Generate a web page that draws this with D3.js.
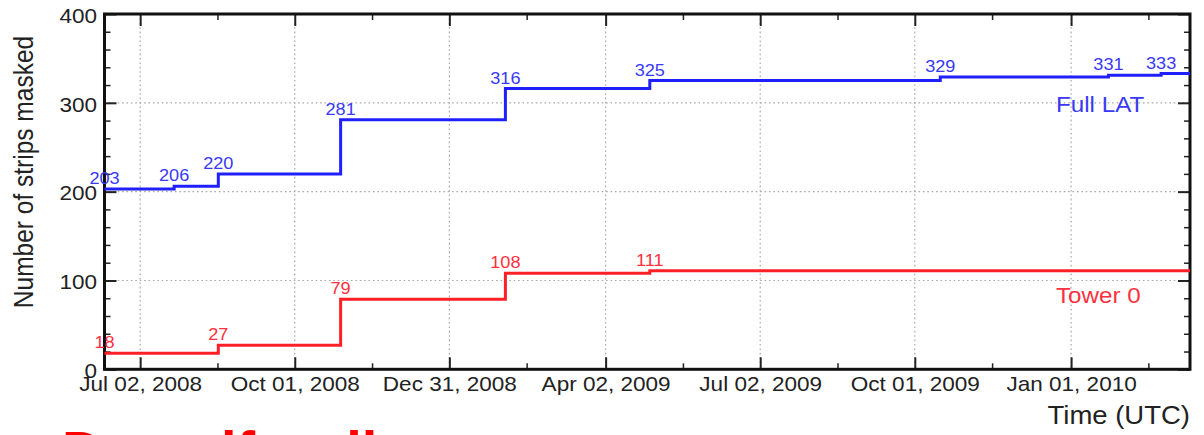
<!DOCTYPE html>
<html>
<head>
<meta charset="UTF-8">
<style>
  body { margin: 0; background: #fff; }
  svg { display: block; font-family: "Liberation Sans", Arial, sans-serif; }
  .grid line { stroke: #a8a8a8; stroke-width: 1.2px; stroke-dasharray: 1.6,2.8; }
  .major line { stroke: #222; stroke-width: 2px; }
  .minor line { stroke: #222; stroke-width: 1.5px; }
  .axis text { fill: #222; font-size: 20.5px; }
</style>
</head>
<body>
<div id="chart"></div>
<script src="https://cdn.jsdelivr.net/npm/d3@7"></script>
<script>
// values
let fullDates  = ["2008-06-11", "2008-07-22", "2008-08-17", "2008-10-28", "2009-02-02", "2009-04-28", "2009-10-16", "2010-01-23", "2010-02-23"];
let fullValues = [203, 206, 220, 281, 316, 325, 329, 331, 333];
let towerDates  = ["2008-06-11", "2008-08-17", "2008-10-28", "2009-02-02", "2009-04-28"];
let towerValues = [18, 27, 79, 108, 111];
let xTickDates = ["2008-07-02", "2008-10-01", "2008-12-31", "2009-04-02", "2009-07-02", "2009-10-01", "2010-01-01"];
let yTicks = [0, 100, 200, 300, 400];
let xRange = ["2008-06-11", "2010-03-12"];

let width = 1204, height = 435;
let pLeft = 104.5, pRight = 1190, pTop = 14, pBottom = 369.3;
let blue = "#2020ff", blueText = "#3a3af5";
let red = "#ff2026", redText = "#ff3040";

let parse = d3.utcParse("%Y-%m-%d");

let svg = d3.select("#chart").append("svg")
  .attr("width", width)
  .attr("height", height);

let x = d3.scaleUtc()
  .domain(xRange.map(parse))
  .range([pLeft, pRight]);

let y = d3.scaleLinear()
  .domain([0, 400])
  .range([pBottom, pTop]);

let majorX = xTickDates.map(parse);
let halfStep = 45.5 * 864e5;
let minorX = majorX.map(d => new Date(+d + halfStep))
  .filter(d => d <= x.domain()[1]);
let minorY = d3.range(0, 401, 20).filter(v => v % 100 !== 0);

// dotted grid
let grid = svg.append("g").attr("class", "grid");
grid.selectAll(".gx").data(majorX).enter().append("line")
  .attr("x1", d => x(d)).attr("x2", d => x(d))
  .attr("y1", pTop).attr("y2", pBottom);
grid.selectAll(".gy").data([100, 200, 300]).enter().append("line")
  .attr("x1", pLeft).attr("x2", pRight)
  .attr("y1", d => y(d)).attr("y2", d => y(d));

// stretch labels a little, like the original
function stretch(sel) {
  sel.selectAll("text").each(function() {
    let t = d3.select(this);
    let tx = +t.attr("x") || 0;
    t.attr("transform", "translate(" + tx + ",0) scale(1.1,1)").attr("x", 0);
  });
}

function axis(gen, tx, ty, cls) {
  let g = svg.append("g")
    .attr("class", "axis " + cls)
    .attr("transform", "translate(" + tx + "," + ty + ")")
    .call(gen);
  g.select(".domain").remove();
  return g;
}

// bottom
axis(d3.axisBottom(x).tickValues(majorX).tickSize(-12).tickPadding(7)
  .tickFormat(d3.utcFormat("%b %d, %Y")), 0, pBottom, "major").call(stretch);
axis(d3.axisBottom(x).tickValues(minorX).tickSize(-6).tickFormat(""), 0, pBottom, "minor");
// top
axis(d3.axisTop(x).tickValues(majorX).tickSize(-12).tickFormat(""), 0, pTop, "major");
axis(d3.axisTop(x).tickValues(minorX).tickSize(-6).tickFormat(""), 0, pTop, "minor");
// left
let yl = axis(d3.axisLeft(y).tickValues(yTicks).tickSize(-12).tickPadding(7.5), pLeft, 0, "major");
yl.selectAll("text").attr("dy", "0.4em");
yl.call(stretch);
axis(d3.axisLeft(y).tickValues(minorY).tickSize(-6).tickFormat(""), pLeft, 0, "minor");
// right
axis(d3.axisRight(y).tickValues(yTicks).tickSize(-12).tickFormat(""), pRight, 0, "major");
axis(d3.axisRight(y).tickValues(minorY).tickSize(-6).tickFormat(""), pRight, 0, "minor");

// frame
svg.append("rect")
  .attr("x", pLeft).attr("y", pTop)
  .attr("width", pRight - pLeft).attr("height", pBottom - pTop)
  .attr("fill", "none").attr("stroke", "#111").attr("stroke-width", 3);

// step series
let line = d3.line()
  .x(d => x(d.date))
  .y(d => y(d.value))
  .curve(d3.curveStepAfter);

function series(dates, values, lineColor, textColor, name, nameY) {
  let pts = dates.map((d, i) => ({date: parse(d), value: values[i]}));
  let path = pts.concat([{date: x.domain()[1], value: values[values.length - 1]}]);
  svg.append("path")
    .datum(path)
    .attr("d", line)
    .attr("fill", "none")
    .attr("stroke", lineColor)
    .attr("stroke-width", 3);
  svg.append("g").selectAll("text").data(pts).enter().append("text")
    .attr("transform", d => "translate(" + x(d.date) + "," + (y(d.value) - 5) + ") scale(1.1,1)")
    .attr("text-anchor", "middle")
    .attr("font-size", "16.5px")
    .attr("fill", textColor)
    .text(d => d.value);
  svg.append("text")
    .attr("transform", "translate(1056," + nameY + ") scale(1.1,1)")
    .attr("font-size", "22px")
    .attr("fill", textColor)
    .text(name);
}

series(fullDates, fullValues, blue, blueText, "Full LAT", 112);
series(towerDates, towerValues, red, redText, "Tower 0", 303);

// axis titles
svg.append("text")
  .attr("transform", "translate(" + pRight + ",424) scale(1.1,1)")
  .attr("text-anchor", "end")
  .attr("font-size", "25px")
  .attr("fill", "#222")
  .text("Time (UTC)");

svg.append("text")
  .attr("transform", "translate(33,172) scale(1.1,1) rotate(-90)")
  .attr("text-anchor", "middle")
  .attr("font-size", "24.5px")
  .attr("fill", "#222")
  .text("Number of strips masked");

// slide heading cut off at the bottom
let heading = svg.append("g")
  .attr("font-size", "56px")
  .attr("font-weight", "bold")
  .attr("fill", "#ff0000");
heading.append("text").attr("x", 62).attr("y", 470).text("Dose");
heading.append("text").attr("x", 221).attr("y", 470).text("if");
heading.append("text").attr("x", 315).attr("y", 470).text("all");
</script>
</body>
</html>
